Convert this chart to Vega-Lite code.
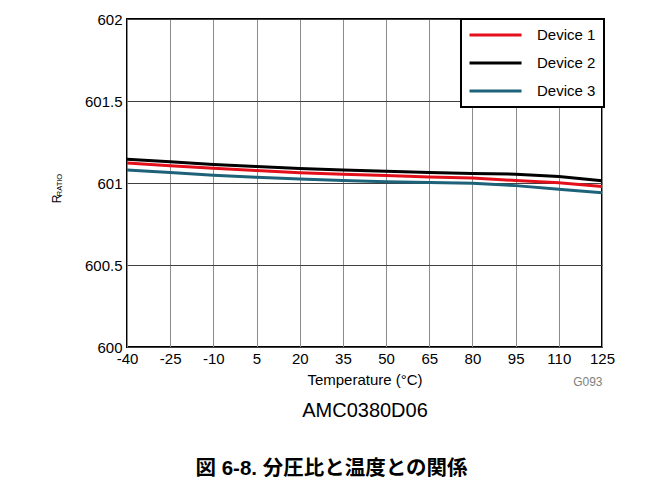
{
  "$schema": "https://vega.github.io/schema/vega-lite/v6.json",
  "width": 475,
  "height": 328,
  "autosize": {"type": "none"},
  "padding": {"left": 127, "top": 19, "right": 61, "bottom": 144},
  "background": "white",
  "config": {
    "view": {"stroke": "black", "strokeWidth": 2},
    "font": "Liberation Sans",
    "axis": {"labelFont": "Liberation Sans", "titleFont": "Liberation Sans", "labelColor": "black", "titleColor": "black", "titleFontWeight": "normal"},
    "legend": {"strokeWidth": 2}
  },
  "title": {
    "text": "図 6-8. 分圧比と温度との関係",
    "orient": "bottom",
    "anchor": "middle",
    "dx": -33,
    "offset": 39,
    "font": "Liberation Sans, Noto Sans CJK JP",
    "fontSize": 20.5,
    "fontWeight": "bold",
    "color": "black"
  },
  "data": {
    "values": [
      {"device": "Device 1", "temp": -40, "ratio": 601.122},
      {"device": "Device 1", "temp": -25, "ratio": 601.105},
      {"device": "Device 1", "temp": -10, "ratio": 601.090},
      {"device": "Device 1", "temp": 5, "ratio": 601.076},
      {"device": "Device 1", "temp": 20, "ratio": 601.062},
      {"device": "Device 1", "temp": 35, "ratio": 601.053},
      {"device": "Device 1", "temp": 50, "ratio": 601.045},
      {"device": "Device 1", "temp": 65, "ratio": 601.036},
      {"device": "Device 1", "temp": 80, "ratio": 601.030},
      {"device": "Device 1", "temp": 95, "ratio": 601.015},
      {"device": "Device 1", "temp": 110, "ratio": 601.001},
      {"device": "Device 1", "temp": 125, "ratio": 600.978},
      {"device": "Device 2", "temp": -40, "ratio": 601.145},
      {"device": "Device 2", "temp": -25, "ratio": 601.130},
      {"device": "Device 2", "temp": -10, "ratio": 601.113},
      {"device": "Device 2", "temp": 5, "ratio": 601.100},
      {"device": "Device 2", "temp": 20, "ratio": 601.088},
      {"device": "Device 2", "temp": 35, "ratio": 601.080},
      {"device": "Device 2", "temp": 50, "ratio": 601.072},
      {"device": "Device 2", "temp": 65, "ratio": 601.064},
      {"device": "Device 2", "temp": 80, "ratio": 601.058},
      {"device": "Device 2", "temp": 95, "ratio": 601.054},
      {"device": "Device 2", "temp": 110, "ratio": 601.039},
      {"device": "Device 2", "temp": 125, "ratio": 601.014},
      {"device": "Device 3", "temp": -40, "ratio": 601.080},
      {"device": "Device 3", "temp": -25, "ratio": 601.064},
      {"device": "Device 3", "temp": -10, "ratio": 601.048},
      {"device": "Device 3", "temp": 5, "ratio": 601.035},
      {"device": "Device 3", "temp": 20, "ratio": 601.025},
      {"device": "Device 3", "temp": 35, "ratio": 601.015},
      {"device": "Device 3", "temp": 50, "ratio": 601.008},
      {"device": "Device 3", "temp": 65, "ratio": 601.003},
      {"device": "Device 3", "temp": 80, "ratio": 600.998},
      {"device": "Device 3", "temp": 95, "ratio": 600.984},
      {"device": "Device 3", "temp": 110, "ratio": 600.962},
      {"device": "Device 3", "temp": 125, "ratio": 600.940}
    ]
  },
  "resolve": {"axis": {"x": "independent", "y": "independent"}},
  "layer": [
    {
      "transform": [{"filter": "datum.device !== 'Device 3'"}],
      "mark": {"type": "line", "strokeWidth": 3},
      "encoding": {
        "x": {
          "field": "temp", "type": "quantitative",
          "scale": {"domain": [-40, 125], "nice": false, "zero": false},
          "axis": {
            "values": [-40, -25, -10, 5, 20, 35, 50, 65, 80, 95, 110, 125],
            "labelExpr": "datum.value + ''",
            "title": "Temperature (°C)",
            "titleFontSize": 15,
            "titlePadding": 6,
            "labelFontSize": 15,
            "labelPadding": 4,
            "labelFlush": false,
            "labelOverlap": false,
            "ticks": false,
            "tickSize": 0,
            "domain": false,
            "grid": true,
            "gridColor": "#8c8c8c",
            "gridWidth": 1
          }
        },
        "y": {
          "field": "ratio", "type": "quantitative",
          "scale": {"domain": [600, 602], "nice": false, "zero": false},
          "axis": {
            "values": [600, 600.5, 601, 601.5, 602],
            "format": "~f",
            "title": "R",
            "titleFontSize": 12,
            "titleAngle": -90,
            "titleX": -67,
            "titleY": 179.5,
            "titleAlign": "center",
            "titleBaseline": "alphabetic",
            "labelFontSize": 15,
            "labelPadding": 5,
            "ticks": false,
            "tickSize": 0,
            "domain": false,
            "grid": true,
            "gridColor": "#404040",
            "gridWidth": 1
          }
        },
        "color": {
          "field": "device", "type": "nominal",
          "scale": {"domain": ["Device 1", "Device 2", "Device 3"], "range": ["#e3101b", "#000000", "#1d6279"]},
          "legend": {
            "title": null,
            "orient": "none",
            "legendX": 334,
            "legendY": 0,
            "padding": 8,
            "fillColor": "white",
            "strokeColor": "black",
            "symbolType": "M-1.15,0H6.85",
            "symbolSize": 169,
            "symbolStrokeWidth": 3,
            "labelOffset": 52,
            "labelFontSize": 15,
            "labelFont": "Liberation Sans",
            "labelColor": "black",
            "rowPadding": 12
          }
        }
      }
    },
    {
      "transform": [{"filter": "datum.device === 'Device 3'"}],
      "mark": {"type": "line", "strokeWidth": 3},
      "encoding": {
        "x": {
          "field": "temp", "type": "quantitative",
          "axis": {
            "orient": "top",
            "values": [125],
            "labelExpr": "'G093'",
            "labelColor": "#808080",
            "labelFontSize": 12,
            "labelAlign": "right",
            "labelBaseline": "middle",
            "labelPadding": -362,
            "labelFlush": false,
            "ticks": false,
            "tickSize": 0,
            "domain": false,
            "grid": false,
            "title": "AMC0380D06",
            "titleFontSize": 20,
            "titleX": 237.5,
            "titleY": 391,
            "titleAlign": "center",
            "titleBaseline": "middle"
          }
        },
        "y": {
          "field": "ratio", "type": "quantitative",
          "axis": {
            "orient": "right",
            "labels": false,
            "ticks": false,
            "domain": false,
            "grid": false,
            "title": "RATIO",
            "titleFontSize": 7.5,
            "titleAngle": -90,
            "titleX": -541,
            "titleY": 165.5,
            "titleAlign": "center",
            "titleBaseline": "alphabetic"
          }
        },
        "color": {"field": "device", "type": "nominal"}
      }
    }
  ]
}
